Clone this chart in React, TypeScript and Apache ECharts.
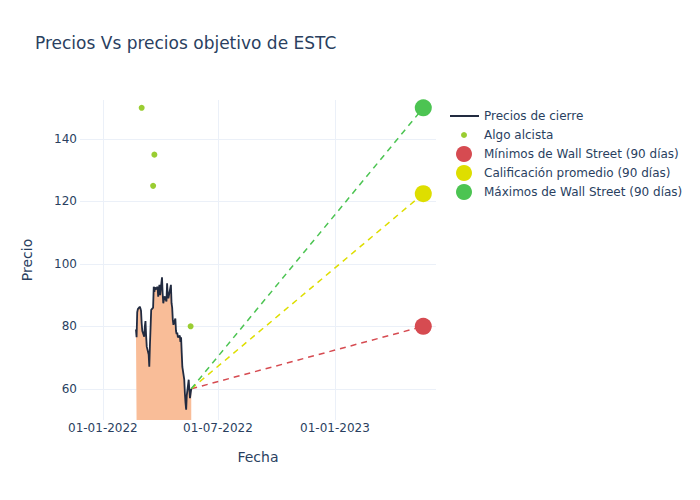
import React, { useEffect, useRef } from "react";
import * as echarts from "echarts";

const priceDates = [
  "2022-02-22", "2022-02-23", "2022-02-24", "2022-02-25", "2022-02-28",
  "2022-03-01", "2022-03-02", "2022-03-03", "2022-03-04", "2022-03-07", "2022-03-08", "2022-03-09", "2022-03-10", "2022-03-11",
  "2022-03-14", "2022-03-15", "2022-03-16", "2022-03-17", "2022-03-18", "2022-03-21", "2022-03-22", "2022-03-23", "2022-03-24",
  "2022-03-25", "2022-03-28", "2022-03-29", "2022-03-30", "2022-03-31",
  "2022-04-01", "2022-04-04", "2022-04-05", "2022-04-06", "2022-04-07", "2022-04-08", "2022-04-11", "2022-04-12", "2022-04-13",
  "2022-04-14", "2022-04-18", "2022-04-19", "2022-04-20", "2022-04-21", "2022-04-22", "2022-04-25", "2022-04-26", "2022-04-27",
  "2022-04-28", "2022-04-29",
  "2022-05-02", "2022-05-03", "2022-05-04", "2022-05-05", "2022-05-06", "2022-05-09", "2022-05-10", "2022-05-11", "2022-05-12",
  "2022-05-13", "2022-05-16", "2022-05-17", "2022-05-18", "2022-05-19", "2022-05-20",
];
const closePrices = [
  79.0, 76.5, 84.5, 85.5, 86.3,
  85.8, 85.0, 81.0, 78.5, 76.7, 80.0, 81.7, 77.0, 73.5,
  71.0, 67.1, 74.0, 79.5, 85.3, 86.0, 92.7, 91.0, 92.5,
  91.8, 92.7, 89.5, 92.0, 93.3,
  90.0, 95.7, 90.5, 87.4, 88.5, 89.6, 88.0, 93.8, 90.0,
  89.0, 93.3, 87.4, 86.0, 82.0, 80.5, 82.5, 78.5, 77.5,
  78.0, 76.5,
  77.0, 75.0, 76.5, 71.5, 67.0, 62.9, 58.5, 55.5, 53.3,
  58.0, 62.9, 59.7, 57.0, 58.5, 60.0,
];

const algoDates = ["2022-03-03", "2022-03-21", "2022-03-23", "2022-05-19"];
const algoValues = [150, 125, 135, 80];

const targetDate = "2023-05-20";
const targetLow = 80;
const targetAvg = 122.5;
const targetHigh = 150;

const xTickDates = ["2022-01-01", "2022-07-01", "2023-01-01"];
const yTicks = [60, 80, 100, 120, 140];
const xRange = ["2021-11-26", "2023-06-09"];
const yRange = [50, 152.5];

const seriesNames = [
  "Precios de cierre",
  "Algo alcista",
  "Mínimos de Wall Street (90 días)",
  "Calificación promedio (90 días)",
  "Máximos de Wall Street (90 días)",
];

const ts = (s: string) => {
  const [y, m, d] = s.split("-").map(Number);
  return new Date(y, m - 1, d).getTime();
};
const pad = (n: number) => (n < 10 ? "0" + n : "" + n);

const FONT = "DejaVu Sans";
const TXT = "#2a3f5f";
const GRID = "#EBF0F8";
const LINE = "#222b40";
const RED = "#d64b51";
const YEL = "#dede00";
const GRN = "#4cc452";

export default function App() {
  const ref = useRef<HTMLDivElement>(null);
  useEffect(() => {
    if (!ref.current) return;
    const chart = echarts.init(ref.current, undefined, { renderer: "svg" });
    const lastT = ts(priceDates[priceDates.length - 1]);
    const lastP = closePrices[closePrices.length - 1];
    const tT = ts(targetDate);
    const legendBase = {
      orient: "vertical" as const,
      itemWidth: 30,
      padding: 0,
      textStyle: { color: TXT, fontSize: 12, fontFamily: FONT },
      selectedMode: false,
    };
    const centers = [115, 134, 153, 172, 191];
    chart.setOption({
      animation: false,
      textStyle: { fontFamily: FONT },
      title: {
        text: "Precios Vs precios objetivo de ESTC",
        left: 35,
        top: 34,
        padding: 0,
        textStyle: { color: TXT, fontSize: 17, fontWeight: "normal", fontFamily: FONT },
      },
      legend: [
        {
          ...legendBase,
          left: 450,
          itemWidth: 29,
          itemHeight: 2,
          top: centers[0] - 5,
          data: [{ name: seriesNames[0], icon: "rect", itemStyle: { color: LINE } }],
        },
        { ...legendBase, left: 461, itemHeight: 6, top: centers[1] - 5, data: [{ name: seriesNames[1], icon: "circle" }] },
        { ...legendBase, left: 456, itemHeight: 16, top: centers[2] - 7, data: [{ name: seriesNames[2], icon: "circle" }] },
        { ...legendBase, left: 456, itemHeight: 16, top: centers[3] - 7, data: [{ name: seriesNames[3], icon: "circle" }] },
        { ...legendBase, left: 456, itemHeight: 16, top: centers[4] - 7, data: [{ name: seriesNames[4], icon: "circle" }] },
      ],
      grid: { left: 80, right: 264, top: 100, bottom: 80, containLabel: false },
      xAxis: {
        type: "value",
        min: ts(xRange[0]),
        max: ts(xRange[1]),
        name: "Fecha",
        nameLocation: "middle",
        nameGap: 30,
        nameTextStyle: { color: TXT, fontSize: 14, fontFamily: FONT },
        axisLine: { show: false },
        axisTick: { show: false, customValues: xTickDates.map(ts) },
        axisLabel: {
          customValues: xTickDates.map(ts),
          color: TXT,
          fontSize: 12,
          fontFamily: FONT,
          margin: 2,
          formatter: (v: number) => {
            const d = new Date(v);
            return pad(d.getDate()) + "-" + pad(d.getMonth() + 1) + "-" + d.getFullYear();
          },
        },
        splitLine: { show: true, lineStyle: { color: GRID, width: 1 } },
      },
      yAxis: {
        type: "value",
        min: yRange[0],
        max: yRange[1],
        name: "Precio",
        nameLocation: "middle",
        nameGap: 46,
        nameTextStyle: { color: TXT, fontSize: 14, fontFamily: FONT },
        axisLine: { show: false },
        axisTick: { show: false, customValues: yTicks },
        axisLabel: { customValues: yTicks, color: TXT, fontSize: 12, fontFamily: FONT, margin: 3 },
        splitLine: { show: true, lineStyle: { color: GRID, width: 1 } },
      },
      series: [
        {
          name: seriesNames[0],
          type: "line",
          symbol: "none",
          data: priceDates.map((d, i) => [ts(d), closePrices[i]]),
          lineStyle: { color: LINE, width: 1.8 },
          itemStyle: { color: LINE },
          areaStyle: { color: "#f9bd98", opacity: 1 },
          z: 3,
        },
        {
          name: "lowLine",
          type: "line",
          symbol: "none",
          data: [[lastT, lastP], [tT, targetLow]],
          lineStyle: { color: RED, width: 1.5, type: [6, 5] },
          z: 2,
        },
        {
          name: "avgLine",
          type: "line",
          symbol: "none",
          data: [[lastT, lastP], [tT, targetAvg]],
          lineStyle: { color: YEL, width: 1.5, type: [6, 5] },
          z: 2,
        },
        {
          name: "highLine",
          type: "line",
          symbol: "none",
          data: [[lastT, lastP], [tT, targetHigh]],
          lineStyle: { color: GRN, width: 1.5, type: [6, 5] },
          z: 2,
        },
        {
          name: seriesNames[1],
          type: "scatter",
          symbolSize: 6,
          data: algoDates.map((d, i) => [ts(d), algoValues[i]]),
          itemStyle: { color: "#9acd32", opacity: 1 },
          z: 4,
        },
        {
          name: seriesNames[2],
          type: "scatter",
          symbolSize: 17,
          data: [[tT, targetLow]],
          itemStyle: { color: RED, opacity: 1 },
          z: 5,
        },
        {
          name: seriesNames[3],
          type: "scatter",
          symbolSize: 17,
          data: [[tT, targetAvg]],
          itemStyle: { color: YEL, opacity: 1 },
          z: 5,
        },
        {
          name: seriesNames[4],
          type: "scatter",
          symbolSize: 17,
          data: [[tT, targetHigh]],
          itemStyle: { color: GRN, opacity: 1 },
          z: 5,
        },
      ],
    });
    return () => chart.dispose();
  }, []);
  return <div ref={ref} style={{ width: 700, height: 500, marginLeft: -8, marginTop: -8 }} />;
}
